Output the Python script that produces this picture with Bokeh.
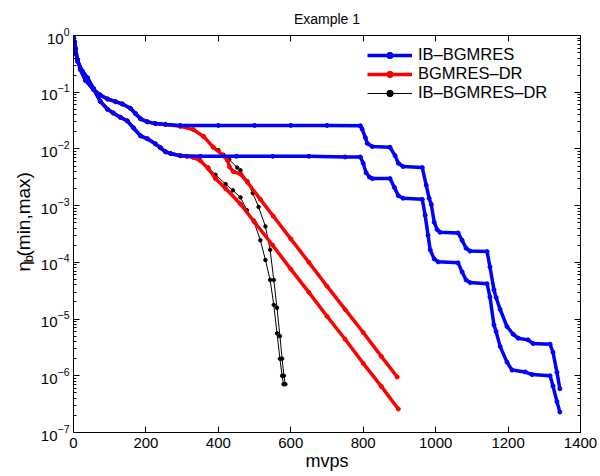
import math
from bokeh.plotting import figure
from bokeh.layouts import row
from bokeh.models import (LogAxis, LinearAxis, FixedTicker, Legend, LegendItem,
                          Label, CustomJSTickFormatter)
from bokeh.embed import file_html
from bokeh.resources import INLINE

# ---------------- data ----------------
x_ticks = [0, 200, 400, 600, 800, 1000, 1200, 1400]
y_ticks = [1e-7, 1e-6, 1e-5, 1e-4, 1e-3, 1e-2, 1e-1, 1e0]

# IB-BGMRES (max / min)
ib_max_x = [0, 3, 6, 11, 19, 33, 55, 74, 94, 116, 135, 157, 171, 185, 204, 226, 254, 295,
            400, 500, 600, 700, 792, 797, 806, 811, 825, 874, 888, 897, 910, 963, 974, 982,
            988, 996, 1004, 1012, 1062, 1073, 1084, 1095, 1142, 1150, 1161, 1167, 1178,
            1197, 1214, 1228, 1255, 1269, 1316, 1324, 1335, 1343]
ib_max_y = [1.0, 0.63, 0.48, 0.38, 0.25, 0.162, 0.112, 0.089, 0.076, 0.068, 0.062, 0.052,
            0.042, 0.034, 0.030, 0.028, 0.027, 0.026, 0.026, 0.026, 0.026, 0.026, 0.0257,
            0.0224, 0.0158, 0.0126, 0.011, 0.0107, 0.0076, 0.0056, 0.0049, 0.0047, 0.0023,
            0.00135, 0.00105, 5.1e-4, 3.8e-4, 3.4e-4, 3.3e-4, 2.45e-4, 1.78e-4, 1.58e-4,
            1.55e-4, 8.3e-5, 3.3e-5, 2.4e-5, 1.48e-5, 7.4e-6, 5.4e-6, 4.6e-6, 4.3e-6,
            3.7e-6, 3.6e-6, 2.6e-6, 1.15e-6, 5.9e-7]
ib_min_x = [0, 3, 6, 11, 25, 39, 55, 74, 94, 110, 130, 149, 166, 185, 204, 226, 240, 254,
            268, 295, 350, 450, 550, 650, 750, 792, 800, 808, 817, 825, 874, 886, 897, 910,
            963, 971, 979, 985, 996, 1007, 1062, 1073, 1084, 1095, 1142, 1150, 1161, 1167,
            1178, 1197, 1211, 1247, 1266, 1316, 1324, 1335, 1343]
ib_min_y = [1.0, 0.76, 0.59, 0.35, 0.234, 0.178, 0.117, 0.069, 0.050, 0.043, 0.036, 0.031,
            0.0234, 0.017, 0.0151, 0.0123, 0.0105, 0.0089, 0.0083, 0.0076, 0.0074, 0.0074,
            0.0074, 0.0074, 0.0072, 0.0072, 0.0056, 0.0038, 0.0032, 0.0030, 0.0030, 0.0021,
            0.0015, 0.00135, 0.00129, 6.8e-4, 3.0e-4, 1.66e-4, 1.15e-4, 1.02e-4, 9.8e-5,
            6.8e-5, 4.9e-5, 4.4e-5, 4.2e-5, 2.45e-5, 7.9e-6, 6.0e-6, 3.3e-6, 1.74e-6,
            1.26e-6, 1.17e-6, 1.05e-6, 1.0e-6, 6.6e-7, 3.5e-7, 2.3e-7]

# BGMRES-DR (max / min)
dr_max_x = [0, 3, 6, 11, 19, 33, 55, 74, 94, 116, 135, 157, 171, 185, 204, 226, 254, 295,
            331, 359, 386, 414, 425, 431, 441, 461, 480, 516, 552, 600, 650, 700, 750, 800,
            850, 894]
dr_max_y = [1.0, 0.63, 0.48, 0.38, 0.25, 0.162, 0.112, 0.089, 0.076, 0.068, 0.062, 0.052,
            0.042, 0.034, 0.030, 0.028, 0.027, 0.025, 0.0219, 0.0166, 0.0107, 0.0076,
            0.0063, 0.0048, 0.0040, 0.0036, 0.0026, 1.29e-3, 6.5e-4, 2.6e-4, 1.0e-4,
            3.8e-5, 1.48e-5, 5.8e-6, 2.2e-6, 9.5e-7]
dr_min_x = [0, 3, 6, 11, 25, 39, 55, 74, 94, 110, 130, 149, 166, 185, 204, 226, 240, 254,
            268, 295, 313, 331, 350, 372, 392, 420, 461, 500, 550, 600, 650, 700, 750, 800,
            850, 897]
dr_min_y = [1.0, 0.76, 0.59, 0.35, 0.234, 0.178, 0.117, 0.069, 0.050, 0.043, 0.036, 0.031,
            0.0234, 0.017, 0.0151, 0.0123, 0.0105, 0.0089, 0.0083, 0.0076, 0.0074, 0.0071,
            0.0062, 0.0045, 0.0030, 0.0020, 0.00107, 5.1e-4, 2.0e-4, 7.6e-5, 2.95e-5,
            1.12e-5, 4.4e-6, 1.66e-6, 6.5e-7, 2.6e-7]

# IB-BGMRES-DR (max / min)
ibdr_max_x = [0, 3, 6, 11, 19, 33, 55, 74, 94, 116, 135, 157, 171, 185, 204, 226, 254, 295,
              331, 359, 386, 400, 414, 430, 452, 461, 480, 495, 511, 530, 543, 553, 562,
              570, 576, 581, 585]
ibdr_max_y = [1.0, 0.63, 0.48, 0.38, 0.25, 0.162, 0.112, 0.089, 0.076, 0.068, 0.062, 0.052,
              0.042, 0.034, 0.030, 0.028, 0.027, 0.025, 0.0219, 0.0166, 0.0107, 0.0095,
              0.0079, 0.0065, 0.0047, 0.0042, 0.0027, 0.00166, 9.5e-4, 4.3e-4, 1.66e-4,
              4.9e-5, 1.58e-5, 5.0e-6, 2.0e-6, 1.0e-6, 7.1e-7]
ibdr_min_x = [0, 3, 6, 11, 25, 39, 55, 74, 94, 110, 130, 149, 166, 185, 204, 226, 240, 254,
              268, 295, 313, 331, 350, 372, 392, 420, 440, 461, 479, 497, 516, 530, 543,
              553, 562, 570, 576, 580]
ibdr_min_y = [1.0, 0.76, 0.59, 0.35, 0.234, 0.178, 0.117, 0.069, 0.050, 0.043, 0.036, 0.031,
              0.0234, 0.017, 0.0151, 0.0123, 0.0105, 0.0089, 0.0083, 0.0076, 0.0074, 0.0071,
              0.0062, 0.0047, 0.0035, 0.0024, 0.00186, 0.0014, 8.3e-4, 5.5e-4, 2.45e-4,
              1.1e-4, 4.9e-5, 1.78e-5, 5.6e-6, 2.0e-6, 1.0e-6, 7.1e-7]

labels = ["IB\u2013BGMRES", "BGMRES\u2013DR", "IB\u2013BGMRES\u2013DR"]

FONT = "Liberation Sans"
LEFT_W = 35
TOTAL_W, TOTAL_H = 600, 476

# ---------------- main figure ----------------
p = figure(width=TOTAL_W - LEFT_W, height=TOTAL_H, x_range=(0, 1400), y_range=(1e-7, 1),
           y_axis_type="log", output_backend="svg", toolbar_location=None,
           min_border_left=73 - LEFT_W, min_border_right=20, min_border_top=34,
           min_border_bottom=44, title="Example 1")
p.title.align = "center"
p.title.text_font = FONT
p.title.text_font_style = "normal"
p.title.text_font_size = "14px"
p.title.text_color = "black"
p.title.standoff = 17
p.grid.visible = False
p.outline_line_color = "black"
p.outline_line_alpha = 1.0
p.outline_line_width = 1

minor_y = [k * 10.0 ** e for e in range(-7, 0) for k in range(2, 10)]
x_ticker = FixedTicker(ticks=x_ticks, minor_ticks=[])
y_ticker = FixedTicker(ticks=y_ticks, minor_ticks=minor_y)

ax = p.xaxis[0]
ax.ticker = x_ticker
ax.major_tick_in, ax.major_tick_out = 6, 0
ax.minor_tick_in, ax.minor_tick_out = 0, 0
ax.major_label_standoff = 5
ax.major_label_text_font = FONT
ax.major_label_text_font_size = "15px"
ax.major_label_text_color = "black"
ax.axis_label = "mvps"
ax.axis_label_text_font = FONT
ax.axis_label_text_font_size = "18px"
ax.axis_label_text_font_style = "normal"
ax.axis_label_text_color = "black"
ax.axis_label_standoff = 0
ax.axis_line_color = "black"

ay = p.yaxis[0]
ay.ticker = y_ticker
ay.major_tick_in, ay.major_tick_out = 6, 0
ay.minor_tick_in, ay.minor_tick_out = 3, 0
ay.major_label_standoff = 4
ay.major_label_text_font = FONT
ay.major_label_text_font_size = "15px"
ay.major_label_text_color = "black"
ay.axis_line_color = "black"

blank = CustomJSTickFormatter(code="return ''")
top = LinearAxis(ticker=x_ticker, formatter=blank, major_tick_in=6, major_tick_out=0,
                 minor_tick_in=0, minor_tick_out=0, major_label_standoff=0,
                 axis_line_color="black")
right = LogAxis(ticker=y_ticker, formatter=blank, major_tick_in=6, major_tick_out=0,
                minor_tick_in=3, minor_tick_out=0, major_label_standoff=0,
                axis_line_color="black")
p.add_layout(top, "above")
p.add_layout(right, "right")

# ---------------- curves ----------------
series = [
    ("black", 1.0, 3.5, ibdr_max_x, ibdr_max_y, ibdr_min_x, ibdr_min_y),
    ("#ff0000", 3.5, 4.0, dr_max_x, dr_max_y, dr_min_x, dr_min_y),
    ("#0000ff", 3.5, 4.0, ib_max_x, ib_max_y, ib_min_x, ib_min_y),
]
legend_refs = {}
for color, lw, ms, xa, ya, xb, yb in series:
    l1 = p.line(xa, ya, line_color=color, line_width=lw)
    s1 = p.scatter(xa, ya, marker="circle", size=ms, fill_color=color, line_color=color)
    p.line(xb, yb, line_color=color, line_width=lw)
    p.scatter(xb, yb, marker="circle", size=ms, fill_color=color, line_color=color)
    legend_refs[color] = [l1, s1]

# one legend per entry so the rows can sit as tightly as in the reference
legend_rows = [(labels[0], "#0000ff", 368), (labels[1], "#ff0000", 349),
               (labels[2], "black", 330)]
for text, color, ypos in legend_rows:
    lg = Legend(items=[LegendItem(label=text, renderers=legend_refs[color])],
                location=(294, ypos))
    lg.label_text_font = FONT
    lg.label_text_font_size = "16.5px"
    lg.label_text_color = "black"
    lg.border_line_alpha = 0
    lg.background_fill_alpha = 0
    lg.glyph_width = 45
    lg.glyph_height = 16
    lg.label_height = 16
    lg.label_standoff = 6
    lg.spacing = 0
    lg.padding = 0
    lg.margin = 0
    p.add_layout(lg)

# ---------------- y axis label panel: eta_b(min,max) ----------------
lf = figure(width=LEFT_W, height=TOTAL_H, x_range=(0, LEFT_W), y_range=(0, TOTAL_H),
            output_backend="svg", toolbar_location=None, min_border=0,
            x_axis_location=None, y_axis_location=None)
lf.grid.visible = False
lf.outline_line_color = None
ylab_kw = dict(angle=math.pi / 2, text_font=FONT, text_color="black",
               text_align="left", text_baseline="alphabetic")
lf.add_layout(Label(x=23, y=193, text="\u03b7", text_font_size="19px", **ylab_kw))
lf.add_layout(Label(x=27.5, y=204, text="b", text_font_size="13px", **ylab_kw))
lf.add_layout(Label(x=23, y=211, text="(min,max)", text_font_size="19px", **ylab_kw))

layout = row(lf, p, spacing=0)
open("out.html", "w").write(file_html(layout, INLINE))
